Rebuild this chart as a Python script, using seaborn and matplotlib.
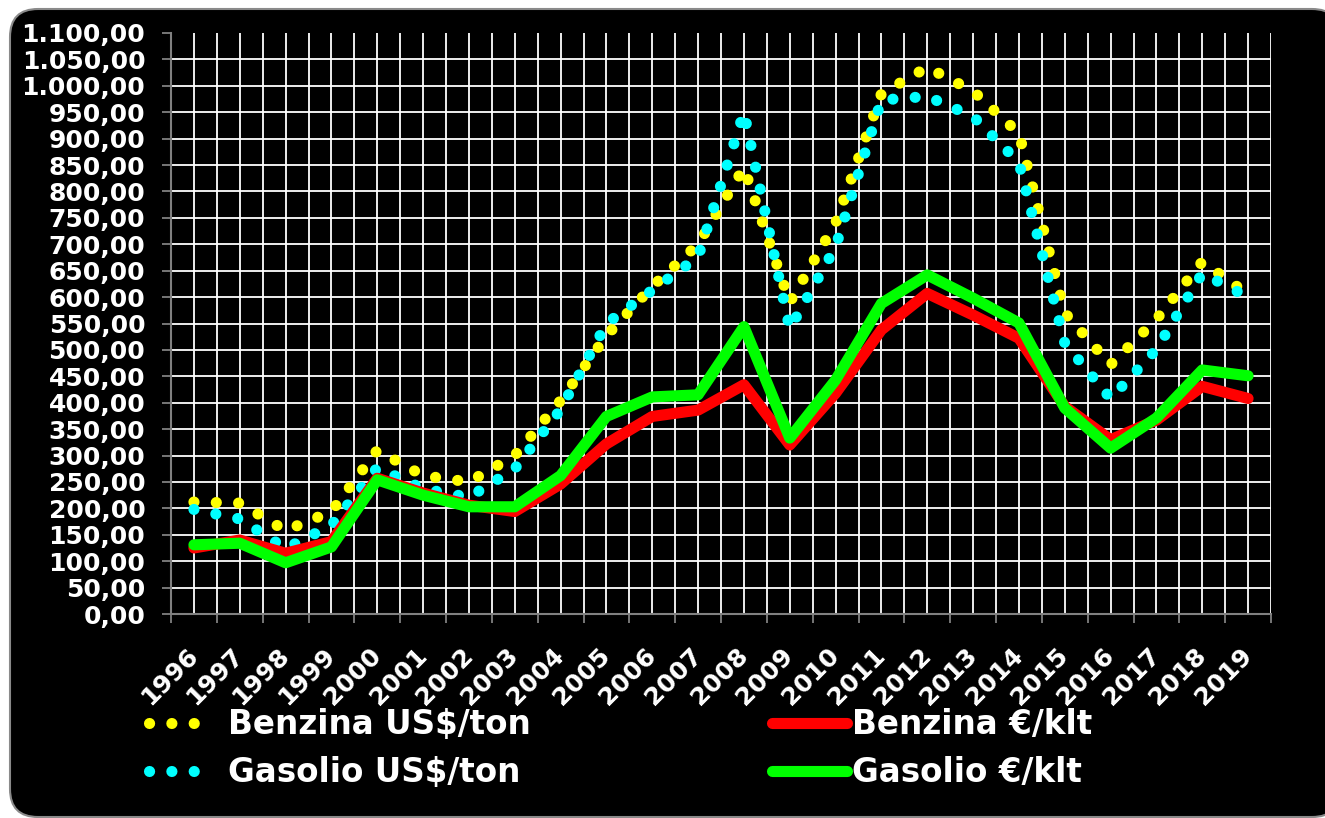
import numpy as np
import pandas as pd
import seaborn as sns
import matplotlib.pyplot as plt
from matplotlib.patches import FancyBboxPatch
from matplotlib.ticker import FuncFormatter

# valori (medie annue)
years = [str(y) for y in range(1996, 2020)]
benzina_usd = [212, 210, 158, 194, 310, 262, 250, 300, 404, 527, 620, 700, 845, 590,
               740, 985, 1035, 990, 910, 570, 472, 558, 667, 605]
gasolio_usd = [198, 180, 124, 168, 277, 237, 221, 275, 387, 550, 613, 676, 950, 540,
               695, 973, 980, 942, 855, 513, 408, 501, 645, 600]
benzina_eur = [125, 140, 115, 137, 257, 229, 206, 194, 246, 322, 374, 386, 434, 320,
               418, 538, 607, 566, 522, 393, 330, 367, 431, 408]
gasolio_eur = [131, 134, 97, 127, 254, 225, 203, 203, 262, 374, 411, 415, 544, 333,
               443, 588, 642, 598, 551, 390, 314, 371, 462, 451]
labels = ["Benzina US$/ton", "Gasolio US$/ton", "Benzina €/klt", "Gasolio €/klt"]

df = pd.DataFrame({"anno": years, "pos": np.arange(len(years)),
                   labels[0]: benzina_usd, labels[1]: gasolio_usd,
                   labels[2]: benzina_eur, labels[3]: gasolio_eur})

sns.set_theme(style="dark")
plt.rcParams["font.family"] = ["DejaVu Sans"]
plt.rcParams["font.weight"] = "bold"

fig = plt.figure(figsize=(13.25, 8.18), dpi=100, facecolor="white")
fig.patches.append(FancyBboxPatch((0.10, 0.01), 13.3, 8.08,
                                  boxstyle="round,pad=0,rounding_size=0.28",
                                  transform=fig.dpi_scale_trans, zorder=-5,
                                  facecolor="black", edgecolor="#8a8a8a", lw=1.5))

ax = fig.add_axes([171 / 1325, 1 - 614 / 818, 1100 / 1325, 581 / 818])
ax.set_facecolor("black")

dot = (0, (0.01, 2.0))
sns.lineplot(data=df, x="pos", y=labels[0], ax=ax, color="#ffff00", lw=8,
             linestyle=dot, dash_capstyle="round", label=labels[0])
sns.lineplot(data=df, x="pos", y=labels[1], ax=ax, color="#00ffff", lw=8,
             linestyle=dot, dash_capstyle="round", label=labels[1])
sns.lineplot(data=df, x="pos", y=labels[2], ax=ax, color="#ff0000", lw=8,
             solid_capstyle="round", label=labels[2])
sns.lineplot(data=df, x="pos", y=labels[3], ax=ax, color="#00ff00", lw=8,
             solid_capstyle="round", label=labels[3])

ax.set_xlim(-0.5, len(years) - 0.5)
ax.set_ylim(0, 1100)
ax.set_yticks(np.arange(0, 1101, 50))
ax.yaxis.set_major_formatter(FuncFormatter(
    lambda v, p: f"{v:,.2f}".replace(",", "X").replace(".", ",").replace("X", ".")))
ax.set_xticks(df["pos"])
ax.set_xticklabels(years, rotation=45, ha="right", va="center", rotation_mode="anchor")
ax.set_xticks(np.arange(-0.5, len(years), 1), minor=True)
ax.set_xlabel("")
ax.set_ylabel("")

ax.grid(which="both", axis="x", color="white", lw=1.3)
ax.grid(which="major", axis="y", color="white", lw=1.3)
ax.get_ygridlines()[-1].set_visible(False)
ax.get_ygridlines()[0].set_visible(False)
ax.set_axisbelow(True)

ax.tick_params(axis="y", colors="white", labelsize=18, length=6.5, width=1.3,
               color="#808080", pad=12, left=True)
ax.tick_params(axis="x", which="major", colors="white", labelsize=18, length=0, pad=27)
ax.tick_params(axis="x", which="minor", length=6.5, width=1.3, color="#808080", bottom=True)
for s in ["top", "right"]:
    ax.spines[s].set_visible(False)
for s in ["left", "bottom"]:
    ax.spines[s].set_color("#808080")
    ax.spines[s].set_linewidth(1.5)

handles, _ = ax.get_legend_handles_labels()
ax.get_legend().remove()
leg1 = fig.legend(handles[:2], labels[:2], loc="upper left",
                  bbox_to_anchor=(133 / 1325, 1 - 692 / 818), frameon=False,
                  fontsize=23.5, handlelength=1.9, handletextpad=0.5,
                  labelspacing=0.45, borderpad=0, labelcolor="white")
leg2 = fig.legend(handles[2:], labels[2:], loc="upper left",
                  bbox_to_anchor=(756 / 1325, 1 - 692 / 818), frameon=False,
                  fontsize=23.5, handlelength=2.3, handletextpad=0.15,
                  labelspacing=0.45, borderpad=0, labelcolor="white")

fig.savefig("out.png", dpi=100, facecolor="white")
